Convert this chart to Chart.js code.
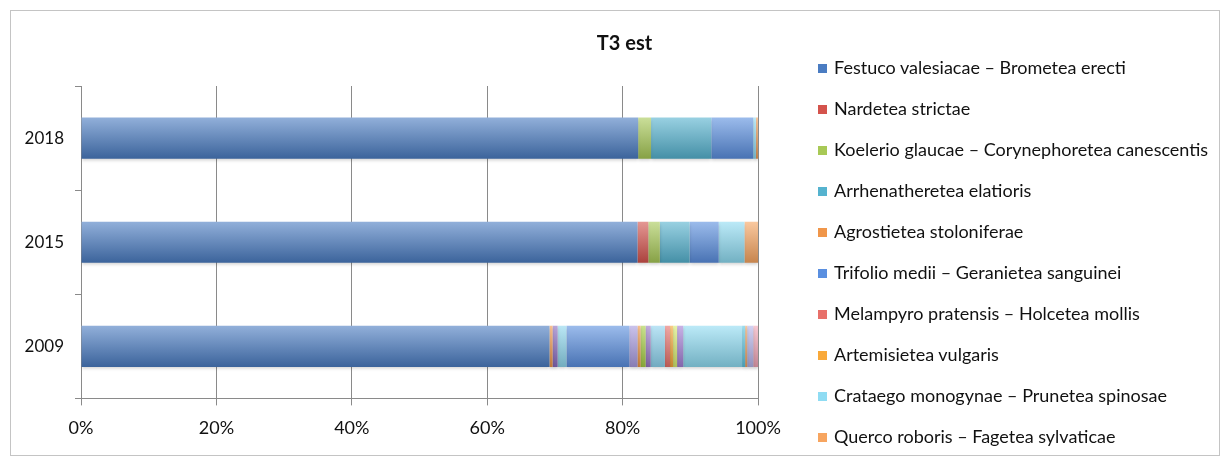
<!DOCTYPE html>
<html>
<head>
<meta charset="utf-8">
<script src="https://cdn.jsdelivr.net/npm/chart.js@4.4.0/dist/chart.umd.min.js"></script>
<style>
    body { margin: 0; background: #fff; }
    #wrap { position: relative; width: 1229px; height: 459px; }
    #legend { position: absolute; left: 818px; top: 47px; font-family: Lato, "Open Sans", sans-serif; font-size: 18px; color: #111; }
    #legend div { height: 41px; line-height: 41px; white-space: nowrap; }
    #legend span { display: inline-block; width: 9px; height: 9px; margin-right: 7px; vertical-align: middle; position: relative; top: -1px; }
</style>
</head>
<body>
<div id="wrap">
    <canvas id="chart" width="1229" height="459"></canvas>
    <div id="legend"></div>
</div>
<script>
const categories = ['2018', '2015', '2009'];
const xTicks = [0, 20, 40, 60, 80, 100];

// classi in legenda
const festuco = [82.3, 82.2, 69.2];
const nardetea = [0, 1.6, 0];
const koelerio = [1.9, 1.7, 0];
const arrhenatheretea = [8.9, 4.4, 0];
const agrostietea = [0, 0, 0.45];
const trifolio = [6.2, 4.3, 9.3];
const melampyro = [0, 0, 0.75];
const artemisietea = [0, 0, 0.45];
const crataego = [0.4, 3.8, 8.7];
const querco = [0.3, 2.0, 0.3];

// altre classi presenti solo nel 2009 (non riportate in legenda)
const altraA = [0, 0, 0.75];
const altraB = [0, 0, 1.3];
const altraC = [0, 0, 1.2];
const altraD = [0, 0, 0.45];
const altraE = [0, 0, 0.75];
const altraF = [0, 0, 0.75];
const altraG = [0, 0, 2.1];
const altraH = [0, 0, 0.6];
const altraI = [0, 0, 0.9];
const altraJ = [0, 0, 0.45];
const altraK = [0, 0, 0.9];
const altraL = [0, 0, 0.75];

function mix(hex, target, t) {
    const n = parseInt(hex.slice(1), 16);
    const r = (n >> 16) & 255, g = (n >> 8) & 255, b = n & 255;
    const m = (c) => Math.round(c + (target - c) * t);
    return `rgb(${m(r)}, ${m(g)}, ${m(b)})`;
}

function barFill(base) {
    const light = mix(base, 255, 0.4);
    const dark = mix(base, 0, 0.2);
    return function (ctx) {
        const chart = ctx.chart;
        const y = chart.scales.y;
        if (!chart.chartArea || !y || ctx.type !== 'data') return base;
        const c = y.getPixelForValue(ctx.dataIndex);
        const h = (y.height / categories.length) * 0.4 / 2;
        const grad = chart.ctx.createLinearGradient(0, c - h, 0, c + h);
        grad.addColorStop(0, light);
        grad.addColorStop(1, dark);
        return grad;
    };
}

function serie(label, data, color) {
    return {
        label: label,
        data: data,
        color: color,
        backgroundColor: barFill(color),
        borderWidth: 0,
        categoryPercentage: 1,
        barPercentage: 0.395,
    };
}

const datasets = [
    serie('Festuco valesiacae – Brometea erecti', festuco, '#4a7cc2'),
    serie('Nardetea strictae', nardetea, '#d4534c'),
    serie('Koelerio glaucae – Corynephoretea canescentis', koelerio, '#a8c956'),
    serie('Arrhenatheretea elatioris', arrhenatheretea, '#55b3cf'),
    serie('Agrostietea stoloniferae', agrostietea, '#f0964a'),
    serie('', altraA, '#8a6bbf'),
    serie('', altraB, '#8ed7ee'),
    serie('Trifolio medii – Geranietea sanguinei', trifolio, '#5a8fe0'),
    serie('', altraC, '#a99be0'),
    serie('', altraD, '#f59a45'),
    serie('', altraE, '#a8d045'),
    serie('', altraF, '#9a78c8'),
    serie('', altraG, '#8fd4f0'),
    serie('Melampyro pratensis – Holcetea mollis', melampyro, '#e8706a'),
    serie('Artemisietea vulgaris', artemisietea, '#f9a93a'),
    serie('', altraH, '#d8ef70'),
    serie('', altraI, '#a47fd6'),
    serie('Crataego monogynae – Prunetea spinosae', crataego, '#8fdcf3'),
    serie('', altraJ, '#5cc6e2'),
    serie('Querco roboris – Fagetea sylvaticae', querco, '#f7a560'),
    serie('', altraK, '#b6b4ea'),
    serie('', altraL, '#f3a6b8'),
];

const frame = {
    id: 'frame',
    beforeDraw(chart) {
        const c = chart.ctx;
        c.save();
        c.strokeStyle = '#c4c4c4';
        c.lineWidth = 1;
        c.strokeRect(10.5, 10.5, 1209, 445);
        c.restore();
    },
    beforeDatasetsDraw(chart) {
        const c = chart.ctx;
        c.save();
        c.shadowColor = 'rgba(0, 0, 0, 0.18)';
        c.shadowBlur = 3;
        c.shadowOffsetY = 2;
    },
    afterDatasetsDraw(chart) {
        chart.ctx.restore();
    }
};

const tickFont = { family: 'Lato, "Open Sans", sans-serif', size: 17 };

new Chart(document.getElementById('chart'), {
    type: 'bar',
    data: { labels: categories, datasets: datasets },
    options: {
        indexAxis: 'y',
        responsive: false,
        animation: false,
        layout: { padding: { top: 0, left: 20, right: 0, bottom: 8 } },
        plugins: {
            legend: { display: false },
            tooltip: { enabled: false },
            title: {
                display: true,
                text: 'T3 est',
                color: '#111',
                font: { family: 'Lato, "Open Sans", sans-serif', size: 20, weight: 'bold' },
                padding: { top: 32, bottom: 30 },
            },
        },
        scales: {
            x: {
                stacked: true,
                min: 0,
                max: 100,
                afterBuildTicks: (scale) => { scale.ticks = xTicks.map(v => ({ value: v })); },
                ticks: { callback: (v) => v + '%', color: '#111', font: { family: tickFont.family, size: 18 }, padding: 12, maxRotation: 0 },
                grid: { color: '#8a8a8a', tickLength: 7, drawTicks: true },
                border: { color: '#8a8a8a' },
            },
            y: {
                stacked: true,
                afterFit: (scale) => { scale.width = 61; },
                ticks: { color: '#111', font: tickFont, padding: 11 },
                grid: { drawOnChartArea: false, color: '#8a8a8a', tickLength: 6, offset: true },
                border: { color: '#8a8a8a' },
            },
            // spazio a destra per la legenda
            yLegend: {
                type: 'category',
                position: 'right',
                afterFit: (scale) => { scale.width = 471; },
                ticks: { display: false },
                grid: { display: false },
                border: { display: false },
            },
        },
    },
    plugins: [frame],
});

// legenda: solo le classi con nome
let html = '';
datasets.filter(d => d.label).forEach(function (d) {
    html += `<div><span style="background:${d.color}"></span>${d.label}</div>`;
});
document.getElementById('legend').innerHTML = html;
</script>
</body>
</html>
